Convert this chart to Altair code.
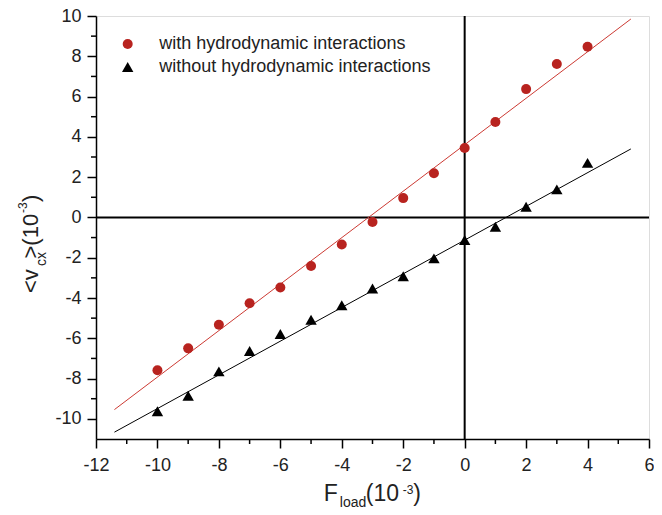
import altair as alt
import pandas as pd

# ---- data ----
x_vals = [-10, -9, -8, -7, -6, -5, -4, -3, -2, -1, 0, 1, 2, 3, 4]
with_hi = [-7.59, -6.50, -5.33, -4.26, -3.48, -2.41, -1.34, -0.23, 0.96, 2.19, 3.45, 4.74, 6.37, 7.62, 8.47]
without_hi = [-9.62, -8.85, -7.64, -6.63, -5.79, -5.08, -4.36, -3.53, -2.92, -2.03, -1.12, -0.46, 0.53, 1.39, 2.71]
fit_x = [-11.4, 5.41]
fit_with = [-9.54, 9.85]
fit_without = [-10.66, 3.40]
series_names = ["with hydrodynamic interactions", "without hydrodynamic interactions"]

x_major = [-12, -10, -8, -6, -4, -2, 0, 2, 4, 6]
x_minor = [-11, -9, -7, -5, -3, -1, 1, 3, 5]
y_major = [-10, -8, -6, -4, -2, 0, 2, 4, 6, 8, 10]
y_minor = [-9, -7, -5, -3, -1, 1, 3, 5, 7, 9]

# axis title pieces (text, size)
xt_text = ["F", "load", "(10", "-3", ")"]
xt_size = [23, 14, 23, 12, 23]
xt_px = [227.8, 243.8, 269.8, 306.8, 317.3]
xt_py = [485, 490.5, 485, 478, 485]
yt_text = ["<v", "cx", ">(10", "-3", ")"]
yt_size = [22, 14, 22, 12, 22]
yt_px = [-57.7, -50.2, -57.7, -69.0, -57.7]
yt_py = [277, 250, 242.5, 197, 186]

RED = "#b8231f"
RED_LINE = "#cc3a33"
FONT = "Liberation Sans"
TXT = "#222222"
W, H = 553, 423

points = pd.DataFrame({
    "x": x_vals * 2,
    "y": with_hi + without_hi,
    "series": [series_names[0]] * len(x_vals) + [series_names[1]] * len(x_vals),
})
fit_w = pd.DataFrame({"x": fit_x, "y": fit_with})
fit_wo = pd.DataFrame({"x": fit_x, "y": fit_without})

label_expr = "datum.value < 0 ? '-' + abs(datum.value) : '' + datum.value"
xs = alt.Scale(domain=[-12, 6], nice=False, zero=False)
ys = alt.Scale(domain=[-11, 10], nice=False, zero=False)
x_axis = alt.Axis(values=x_major, title=None, grid=False, tickSize=9, tickWidth=1.5,
                  tickColor="black", domainColor="black", domainWidth=1.5,
                  labelFont=FONT, labelFontSize=18, labelColor=TXT, labelPadding=8,
                  labelFlush=False, labelOverlap=False, labelExpr=label_expr)
y_axis = alt.Axis(values=y_major, title=None, grid=False, tickSize=9, tickWidth=1.5,
                  tickColor="black", domainColor="black", domainWidth=1.5,
                  labelFont=FONT, labelFontSize=18, labelColor=TXT, labelPadding=6,
                  labelFlush=False, labelOverlap=False, labelExpr=label_expr)

legend = alt.Legend(title=None, orient="none", legendX=22.7, legendY=19, padding=0,
                    labelFont=FONT, labelFontSize=18, labelColor=TXT, labelOffset=22.6,
                    labelLimit=0, rowPadding=5, symbolSize=110, symbolStrokeWidth=0)

zero_v = alt.Chart(pd.DataFrame({"v": [0]})).mark_rule(color="black", strokeWidth=2).encode(
    x=alt.X("v:Q", scale=xs, axis=x_axis))
zero_h = alt.Chart(pd.DataFrame({"v": [0]})).mark_rule(color="black", strokeWidth=2).encode(
    y=alt.Y("v:Q", scale=ys, axis=y_axis))

minor_x = alt.Chart(pd.DataFrame({"v": x_minor})).mark_rule(color="black", strokeWidth=1.5).encode(
    x=alt.X("v:Q", scale=xs, axis=x_axis), y=alt.value(H), y2=alt.value(H + 5))
minor_y = alt.Chart(pd.DataFrame({"v": y_minor})).mark_rule(color="black", strokeWidth=1.5).encode(
    y=alt.Y("v:Q", scale=ys, axis=y_axis), x=alt.value(0), x2=alt.value(-5))

line_w = alt.Chart(fit_w).mark_line(color=RED_LINE, strokeWidth=1).encode(
    x=alt.X("x:Q", scale=xs, axis=x_axis), y=alt.Y("y:Q", scale=ys, axis=y_axis))
line_wo = alt.Chart(fit_wo).mark_line(color="black", strokeWidth=1).encode(
    x=alt.X("x:Q", scale=xs, axis=x_axis), y=alt.Y("y:Q", scale=ys, axis=y_axis))

pts = alt.Chart(points).mark_point(filled=True, opacity=1, strokeWidth=0).encode(
    x=alt.X("x:Q", scale=xs, axis=x_axis),
    y=alt.Y("y:Q", scale=ys, axis=y_axis),
    color=alt.Color("series:N", scale=alt.Scale(domain=series_names, range=[RED, "black"]), legend=legend),
    shape=alt.Shape("series:N", scale=alt.Scale(domain=series_names, range=["circle", "triangle-up"]), legend=legend),
    size=alt.Size("series:N", scale=alt.Scale(domain=series_names, range=[100, 130]), legend=None),
)

xt = alt.Chart(pd.DataFrame({"t": xt_text, "fs": xt_size, "px": xt_px, "py": xt_py})).mark_text(
    align="left", baseline="alphabetic", font=FONT, color=TXT).encode(
    x=alt.X("px:Q", scale=None), y=alt.Y("py:Q", scale=None),
    size=alt.Size("fs:Q", scale=None), text="t:N")
yt = alt.Chart(pd.DataFrame({"t": yt_text, "fs": yt_size, "px": yt_px, "py": yt_py})).mark_text(
    align="left", baseline="alphabetic", font=FONT, color=TXT, angle=270).encode(
    x=alt.X("px:Q", scale=None), y=alt.Y("py:Q", scale=None),
    size=alt.Size("fs:Q", scale=None), text="t:N")

chart = alt.layer(zero_v, zero_h, minor_x, minor_y, line_w, line_wo, pts, xt, yt).properties(
    width=W, height=H,
    autosize=alt.AutoSizeParams(type="none"),
    padding={"left": 88, "top": 8, "right": 5, "bottom": 68},
).configure_view(stroke="black", strokeWidth=1.5).configure(background="white")

chart.save("out.html", embed_options={"renderer": "svg", "actions": False})
